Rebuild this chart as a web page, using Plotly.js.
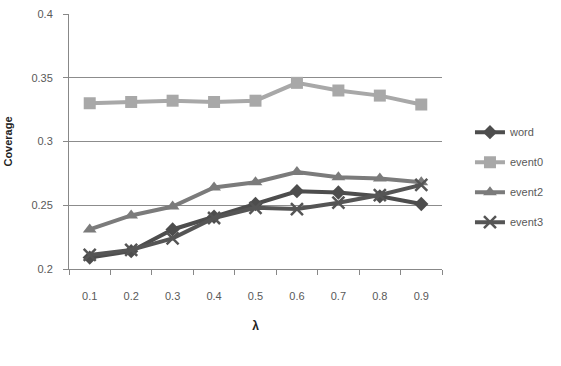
<!DOCTYPE html>
<html><head><meta charset="utf-8">
<script src="https://cdn.plot.ly/plotly-3.0.1.min.js"></script>
<style>body{margin:0;background:#fff}#c{width:561px;height:366px}</style>
</head><body><div id="c"></div>
<script>
const categories = ["0.1","0.2","0.3","0.4","0.5","0.6","0.7","0.8","0.9"];
const word   = [0.209,0.214,0.231,0.241,0.251,0.261,0.260,0.257,0.251];
const event0 = [0.330,0.331,0.332,0.331,0.332,0.346,0.340,0.336,0.329];
const event2 = [0.231,0.242,0.249,0.264,0.268,0.276,0.272,0.271,0.268];
const event3 = [0.211,0.215,0.224,0.240,0.248,0.247,0.252,0.258,0.266];
const yTicks = [0.2,0.25,0.3,0.35,0.4];
const yTickText = ["0.2","0.25","0.3","0.35","0.4"];

function tr(name, y, color, symbol, size, group){
  return {type:"scatter", mode:"lines+markers", name:name, x:categories, y:y,
    legendgroup:group,
    line:{color:color, width:4},
    marker:{symbol:symbol, size:size, color:color, line:{width:symbol==="x-thin"?2.5:0, color:color}}};
}
const data = [
  tr("word", word, "#4d4d4d", "diamond", 11, "a"),
  tr("event0", event0, "#a8a8a8", "square", 12, "b"),
  tr("event2", event2, "#7b7b7b", "triangle-up", 12, "c"),
  tr("event3", event3, "#555555", "x-thin", 12, "d")
];
const layout = {
  width:561, height:366,
  margin:{l:69, r:113, t:14, b:97},
  paper_bgcolor:"#fff", plot_bgcolor:"#fff",
  font:{family:"Liberation Sans, Arial, sans-serif", size:11, color:"#595959"},
  showlegend:true,
  legend:{x:1.075, xanchor:"left", y:0.36, yanchor:"middle", traceorder:"grouped", tracegroupgap:11,
    itemwidth:30, font:{size:11, color:"#595959"}, bgcolor:"rgba(0,0,0,0)"},
  xaxis:{type:"category", range:[-0.5,8.5], tickson:"boundaries", ticks:"outside", ticklen:5,
    ticklabelstandoff:17,
    tickcolor:"#888", showline:true, linecolor:"#888", linewidth:1, showgrid:false,
    tickfont:{size:11, color:"#595959"},
    title:{text:"<b>λ</b>", font:{size:12, color:"#222"}, standoff:20}},
  yaxis:{range:[0.2,0.4], tickvals:yTicks, ticktext:yTickText, ticks:"outside", ticklen:5,
    ticklabelstandoff:8,
    tickcolor:"#888", showline:true, linecolor:"#888", linewidth:1,
    showgrid:true, gridcolor:"#8c8c8c", gridwidth:1, zeroline:false,
    tickfont:{size:11, color:"#595959"},
    title:{text:"<b>Coverage</b>", font:{size:11, color:"#222"}, standoff:16}}
};
Plotly.newPlot("c", data, layout, {displayModeBar:false, staticPlot:true});
</script></body></html>
